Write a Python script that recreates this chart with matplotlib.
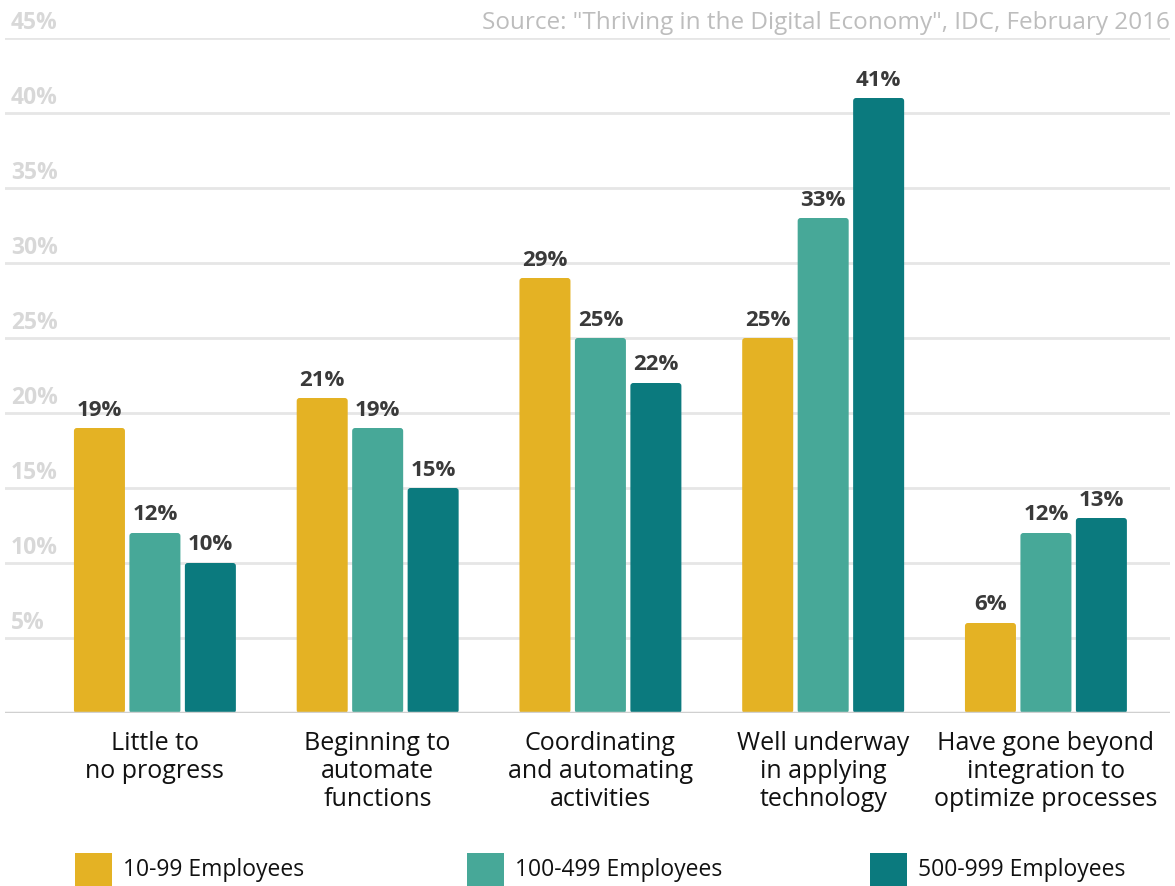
import numpy as np
import matplotlib.pyplot as plt
from matplotlib.patches import FancyBboxPatch

plt.rcParams['font.family'] = ['Open Sans', 'DejaVu Sans']

categories = ['Little to\nno progress', 'Beginning to\nautomate\nfunctions',
              'Coordinating\nand automating\nactivities', 'Well underway\nin applying\ntechnology',
              'Have gone beyond\nintegration to\noptimize processes']
series_names = ['10-99 Employees', '100-499 Employees', '500-999 Employees']
small = [19, 21, 29, 25, 6]
medium = [12, 19, 25, 33, 12]
large = [10, 15, 22, 41, 13]
yticks = [5, 10, 15, 20, 25, 30, 35, 40, 45]

colors = ['#E4B224', '#47A898', '#0B7A7E']

fig = plt.figure(figsize=(11.75, 8.86), dpi=100)
ax = fig.add_axes([5 / 1175, 173 / 886, 1165 / 1175, 675 / 886])

x = np.arange(len(categories))
w = 0.229
off = 0.249
for k, vals in enumerate([small, medium, large]):
    bars = ax.bar(x + (k - 1) * off, vals, w, color=colors[k], zorder=3)
    for b, v in zip(bars, vals):
        # swap plain rectangle for one with slightly rounded corners
        r = FancyBboxPatch((b.get_x(), 0), b.get_width(), v,
                           boxstyle='round,pad=0,rounding_size=0.013',
                           mutation_aspect=15, facecolor=colors[k], edgecolor='none', zorder=3)
        ax.add_patch(r)
        b.set_visible(False)
        ax.text(b.get_x() + b.get_width() / 2, v + 0.5, f'{v}%', ha='center', va='bottom',
                fontsize=16, fontweight='bold', color='#3a3a3a')

ax.set_xlim(-0.673, 4.557)
ax.set_ylim(0, 45)
for t in yticks:
    ax.axhline(t, color='#e6e6e6', lw=2, zorder=1)
    ax.text(0.005, t + 0.2, f'{t}%', transform=ax.get_yaxis_transform(), ha='left', va='bottom',
            fontsize=16.5, fontweight='bold', color='#d8d8d8')
ax.axhline(0, color='#d0d0d0', lw=2.5, zorder=4)

for sp in ax.spines.values():
    sp.set_visible(False)
ax.set_xticks([])
ax.set_yticks([])

for i, c in enumerate(categories):
    ax.text(i, -1.2, c, ha='center', va='top', fontsize=18, color='#111111', linespacing=1.15)

ax.text(1.0, 45.2, 'Source: "Thriving in the Digital Economy", IDC, February 2016',
        transform=ax.get_yaxis_transform(), ha='right', va='bottom', fontsize=17.5, color='#bdbdbd')

leg_x = [75, 467, 870]
for name, lx, c in zip(series_names, leg_x, colors):
    fig.patches.append(plt.Rectangle((lx / 1175, 0), 37 / 1175, 33 / 886, transform=fig.transFigure,
                                     facecolor=c, edgecolor='none'))
    fig.text((lx + 48) / 1175, 16 / 886, name, ha='left', va='center', fontsize=16.5, color='#111111')

fig.savefig('out.png', dpi=100)
